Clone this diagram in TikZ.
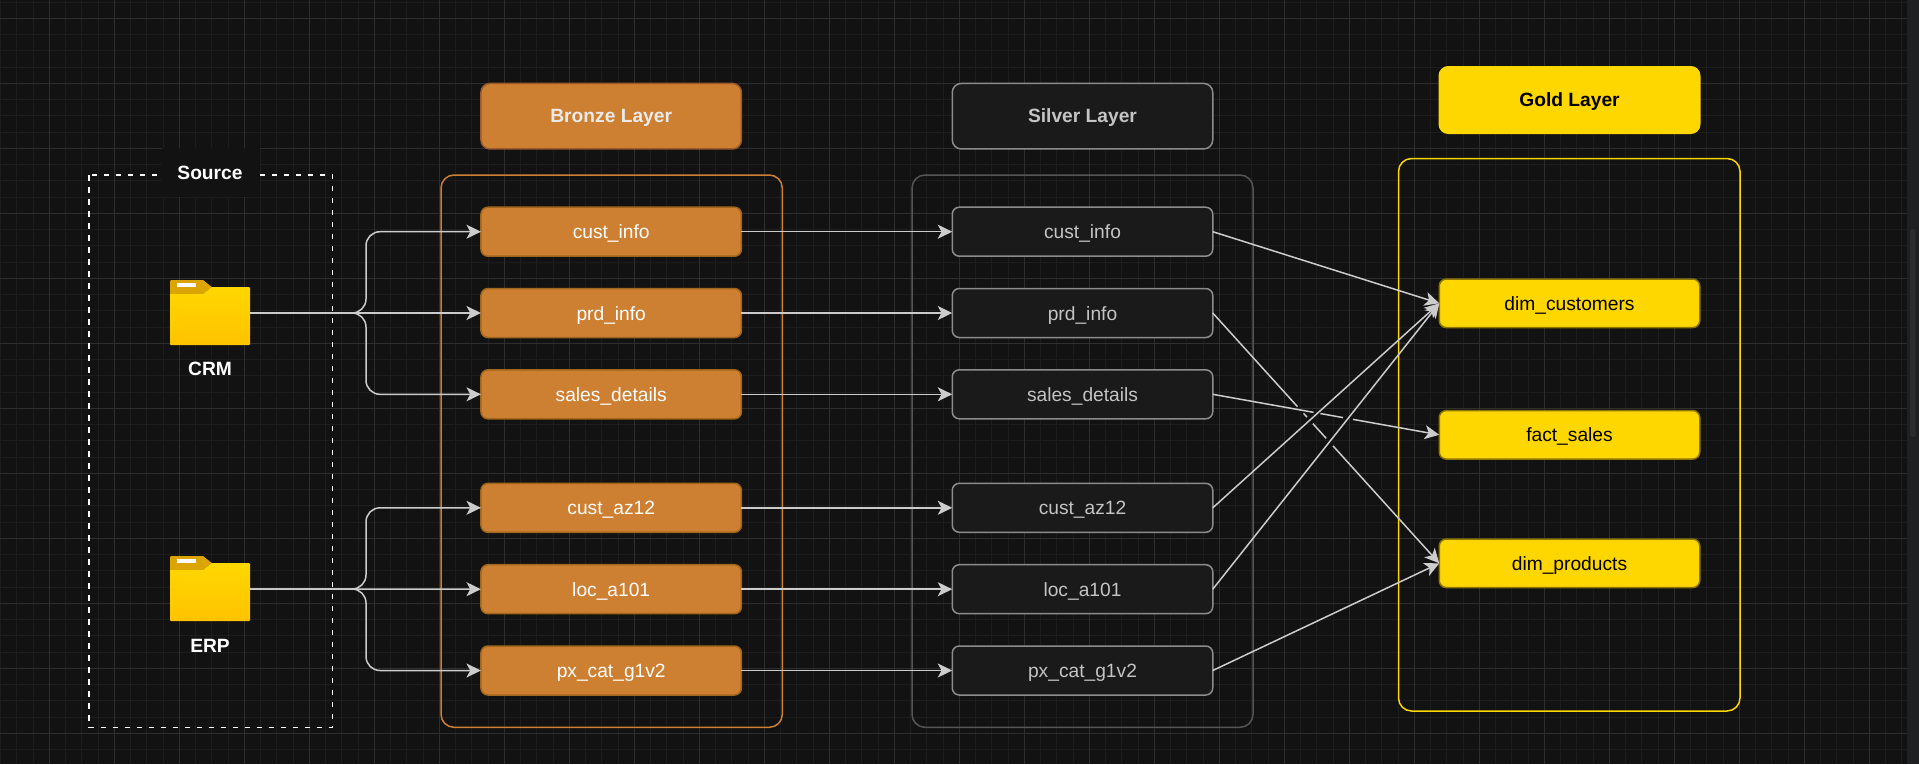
\documentclass[tikz,border=0pt]{standalone}
\usepackage{fontspec}
\setmainfont{Liberation Sans}
\usetikzlibrary{arrows.meta,calc}
\definecolor{bg}{HTML}{121212}
\definecolor{gridminor}{HTML}{1D1D1D}
\definecolor{gridmajor}{HTML}{2E2E2E}
\definecolor{scrolltrack}{HTML}{1E2022}
\definecolor{scrollthumb}{HTML}{2C2C2C}
\definecolor{wirecol}{HTML}{CCCCCC}
\definecolor{bronze}{HTML}{CD7F32}
\definecolor{bronzeedge}{HTML}{A0661A}
\definecolor{bronzehead}{HTML}{9A5A2D}
\definecolor{silverfill}{HTML}{1A1A1A}
\definecolor{silveredge}{HTML}{8C8C8C}
\definecolor{silverbox}{HTML}{555555}
\definecolor{silvertext}{HTML}{C4C4C4}
\definecolor{gold}{HTML}{FFD700}
\definecolor{goldedge}{HTML}{8C7600}
\definecolor{folderdark}{HTML}{DBA400}
\definecolor{folderlow}{HTML}{FFC300}
\tikzset{
  base/.style={rectangle,rounded corners=7pt,outer sep=0pt,inner sep=0pt,line width=1.5pt,
    minimum width=260.5pt,minimum height=49pt,text height=17.6pt,text depth=3.4pt,font=\fontsize{19.2}{23}\selectfont},
  titlebase/.style={base,minimum height=65.5pt,rounded corners=9pt,text height=16.6pt,text depth=3.4pt,font=\fontsize{19.2}{23}\selectfont\bfseries},
  bronzenode/.style={base,draw=bronzeedge,fill=bronze,text=white},
  bronzetitle/.style={titlebase,draw=bronzehead,fill=bronze,text=white!92!black},
  silvernode/.style={base,draw=silveredge,fill=silverfill,text=silvertext},
  silvertitle/.style={titlebase,draw=silveredge,fill=silverfill,text=silvertext},
  goldnode/.style={base,draw=goldedge,fill=gold,text=black,minimum height=48.5pt},
  goldtitle/.style={titlebase,draw=gold,fill=gold,text=black,minimum height=66.5pt},
  layerbox/.style={rounded corners=13pt,line width=1.5pt},
  wire/.style={draw=wirecol,line width=1.5pt,-{Stealth[length=14.5pt,width=14pt,inset=3.8pt,fill=wirecol]}},
  plainwire/.style={draw=wirecol,line width=1.5pt},
  bus/.style={wire,rounded corners=14pt},
  caption/.style={text=white,font=\fontsize{19.2}{23}\selectfont\bfseries,inner sep=0pt},
  foldernode/.style={minimum width=80pt,minimum height=65pt,inner sep=0pt,outer sep=0pt},
}
\begin{document}
\begin{tikzpicture}[x=1pt,y=-1pt]
\useasboundingbox (0,0) rectangle (1919,764);
\fill[bg] (0,0) rectangle (1919,764);
% grid
\foreach \k in {0,...,117}{\draw[gridminor,line width=1pt] ({0.55+16.25*\k},0) -- ({0.55+16.25*\k},764);}
\foreach \k in {0,...,47}{\draw[gridminor,line width=1pt] (0,{2.05+16.25*\k}) -- (1907,{2.05+16.25*\k});}
\foreach \k in {0,...,28}{\draw[gridmajor,line width=1pt] ({49.5+65*\k},0) -- ({49.5+65*\k},764);}
\foreach \k in {0,...,11}{\draw[gridmajor,line width=1pt] (0,{18.5+65*\k}) -- (1907,{18.5+65*\k});}
\fill[scrolltrack] (1907,0) rectangle (1919,764);
\fill[scrollthumb,rounded corners=2.5pt] (1910,229) rectangle (1915.7,437);
% containers
\draw[white,line width=1.5pt,dash pattern=on 5.5pt off 6.5pt] (89,175) rectangle (332.7,727.3);
\node[fill=bg,inner sep=0pt,minimum width=98pt,minimum height=49pt] (srcpatch) at (211,172.5) {};
\node[caption] (srctitle) at (210,172.7) {Source};
\draw[bronze,layerbox] (441,175) rectangle (782.3,727.3);
\draw[silverbox,layerbox] (912,175) rectangle (1253,727.3);
\draw[gold,layerbox] (1398.5,158.5) rectangle (1740,711);
% titles
\node[bronzetitle] (bt) at (611.2,116.2) {Bronze Layer};
\node[silvertitle] (st) at (1082.5,116.2) {Silver Layer};
\node[goldtitle] (gt) at (1569.5,100) {Gold Layer};
% bronze
\node[bronzenode] (b1) at (611.2,231.7) {cust\_info};
\node[bronzenode] (b2) at (611.2,313) {prd\_info};
\node[bronzenode] (b3) at (611.2,394.3) {sales\_details};
\node[bronzenode] (b4) at (611.2,507.8) {cust\_az12};
\node[bronzenode] (b5) at (611.2,589.2) {loc\_a101};
\node[bronzenode] (b6) at (611.2,670.5) {px\_cat\_g1v2};
% silver
\node[silvernode] (s1) at (1082.5,231.7) {cust\_info};
\node[silvernode] (s2) at (1082.5,313) {prd\_info};
\node[silvernode] (s3) at (1082.5,394.3) {sales\_details};
\node[silvernode] (s4) at (1082.5,507.8) {cust\_az12};
\node[silvernode] (s5) at (1082.5,589.2) {loc\_a101};
\node[silvernode] (s6) at (1082.5,670.5) {px\_cat\_g1v2};
% gold
\node[goldnode] (g1) at (1569.5,303.3) {dim\_customers};
\node[goldnode] (g2) at (1569.5,434.8) {fact\_sales};
\node[goldnode] (g3) at (1569.5,563.3) {dim\_products};
% folders
\foreach \nm/\oy in {crm/0,erp/276}{
  \begin{scope}[yshift=-\oy pt]
    \fill[folderdark] (170,281) arc[start angle=180,end angle=270,radius=1] -- (203,280) -- (211.7,287) -- (203,294) -- (170,294) -- cycle;
    \shade[top color=gold,bottom color=folderlow] (203,294) -- (211.7,287) -- (249,287) -- (250,288) -- (250,344) -- (249,345) -- (171,345) -- (170,344) -- (170,294) -- cycle;
    \fill[white] (177,283.3) rectangle (196,287);
  \end{scope}
}
\node[foldernode] (crm) at (210,313) {};
\node[foldernode] (erp) at (210,589) {};
\node[caption] (crmlabel) at (210,368.7) {CRM};
\node[caption] (erplabel) at (210,645.5) {ERP};
% source to bronze
\coordinate (crmbus) at (366,313);
\coordinate (erpbus) at (366,589);
\draw[bus] (crm.east) -- (crmbus) |- (b1.west);
\draw[wire] (crm.east) -- (b2.west);
\draw[bus] (crm.east) -- (crmbus) |- (b3.west);
\draw[bus] (erp.east) -- (erpbus) |- (b4.west);
\draw[wire] (erp.east) -- (b5.west);
\draw[bus] (erp.east) -- (erpbus) |- (b6.west);
% bronze to silver
\foreach \i in {1,...,6}{\draw[wire] (b\i.east) -- (s\i.west);}
% silver to gold
\draw[wire] (s1.east) -- (g1.west);
\draw[wire] (s4.east) -- (g1.west);
\draw[wire] (s5.east) -- (g1.west);
\draw[wire] (s6.east) -- (g3.west);
\draw[plainwire] (s2.east) -- ($(s2.east)!.374!(g3.west)$)
  ($(s2.east)!.401!(g3.west)$) -- ($(s2.east)!.416!(g3.west)$)
  ($(s2.east)!.442!(g3.west)$) -- ($(s2.east)!.501!(g3.west)$);
\draw[wire] ($(s2.east)!.531!(g3.west)$) -- (g3.west);
\draw[plainwire] (s3.east) -- ($(s3.east)!.445!(g2.west)$)
  ($(s3.east)!.475!(g2.west)$) -- ($(s3.east)!.575!(g2.west)$);
\draw[wire] ($(s3.east)!.619!(g2.west)$) -- (g2.west);
\end{tikzpicture}
\end{document}
